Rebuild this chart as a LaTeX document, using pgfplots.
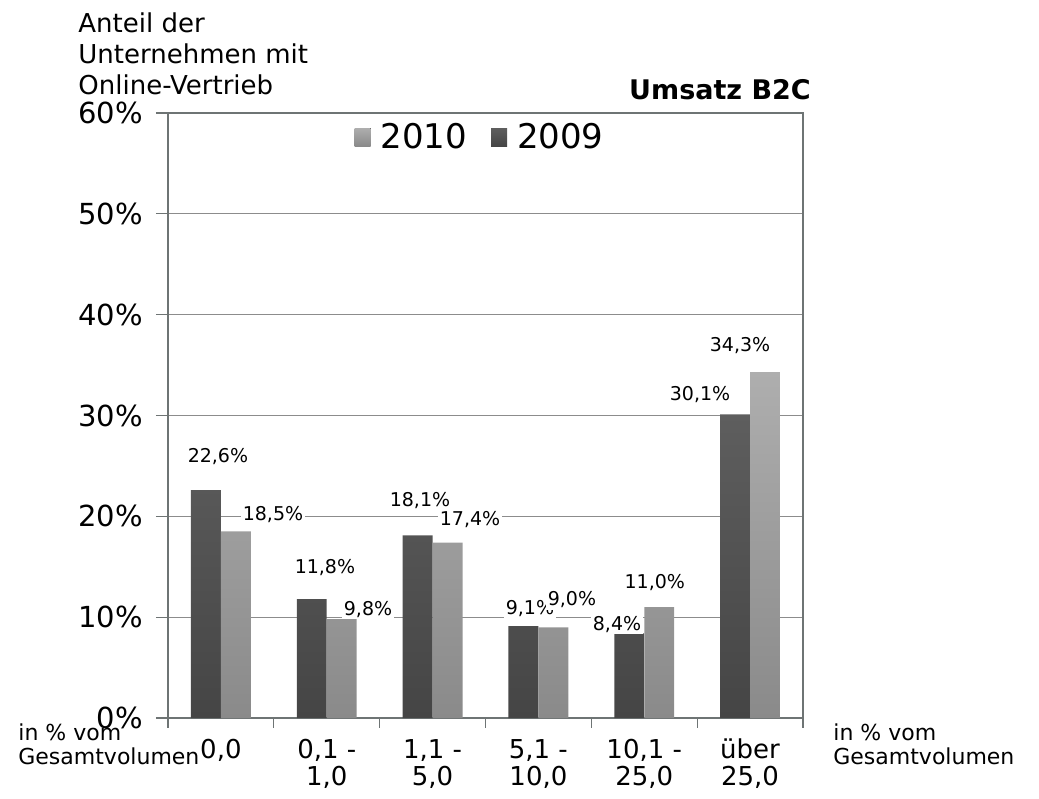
\documentclass[border=0pt]{standalone}
\usepackage{fontspec}
\setmainfont{DejaVu Sans}
\usepackage{pgfplots}
\pgfplotsset{compat=1.18}

\definecolor{darkA}{HTML}{5E5E5E}
\definecolor{darkB}{HTML}{454545}
\definecolor{lightA}{HTML}{AEAEAE}
\definecolor{lightB}{HTML}{8A8A8A}
\definecolor{gridgray}{HTML}{8C8C8C}
\definecolor{framegray}{HTML}{6E7474}

\begin{document}
\begin{tikzpicture}[x=1pt,y=1pt]
% page frame: 1039 x 798 px at 0.5pt per px, axis box at origin
\path[use as bounding box] (-84,-40) rectangle (435.5,359);
\begin{axis}[
    at={(0,0)}, anchor=south west,
    scale only axis, width=317.5pt, height=302.5pt,
    ybar, bar width=0.283,
    xmin=-0.5, xmax=5.5, ymin=0, ymax=60,
    ytick={0,10,...,60},
    yticklabel={\pgfmathprintnumber{\tick}\%},
    /pgf/number format/assume math mode=true,
    yticklabel style={font=\fontsize{14.5}{17}\selectfont, xshift=-3pt},
    ytick pos=left,
    xtick={0,...,5},
    xticklabels={{0,0},{0,1 -\\1,0},{1,1 -\\5,0},{5,1 -\\10,0},{10,1 -\\25,0},{über\\25,0}},
    xticklabel style={font=\fontsize{13}{13.5}\selectfont, align=center, yshift=-1pt},
    tick align=outside, major tick length=6pt,
    xtick style={draw=none},
    ytick style={draw=framegray, line width=0.6pt},
    ymajorgrids, grid style={gridgray, line width=0.6pt},
    axis line style={framegray, line width=0.8pt},
    clip=false,
    legend style={at={(0.493,0.960)}, anchor=center, draw=none, fill=none,
        font=\fontsize{17}{20}\selectfont, legend columns=-1,
        /tikz/every even column/.append style={column sep=10pt}},
    legend image code/.code={\fill[#1] (0pt,-4.5pt) rectangle (8pt,4.5pt);
        \path (0pt,0pt) -- (11pt,0pt);},
    reverse legend,
]
% 2009
\addplot[bar shift=-0.1417, draw=none, top color=darkA, bottom color=darkB]
    coordinates {(0,22.6) (1,11.8) (2,18.1) (3,9.1) (4,8.4) (5,30.1)};
% 2010
\addplot[bar shift=0.1417, draw=none, top color=lightA, bottom color=lightB]
    coordinates {(0,18.5) (1,9.8) (2,17.4) (3,9.0) (4,11.0) (5,34.3)};
\legend{2009,2010}

% category separators below the axis
\pgfplotsinvokeforeach{-0.5,0.5,1.5,2.5,3.5,4.5,5.5}{
    \draw[framegray, line width=0.6pt] (axis cs:#1,0) -- ++(0pt,-5pt);
}

% value labels
\tikzset{vl/.style={fill=white, inner sep=1pt, font=\fontsize{9.5}{11}\selectfont}}
\node[vl] at (axis cs:-0.028,25.9) {22,6\%};
\node[vl] at (axis cs:0.492,20.2) {18,5\%};
\node[vl] at (axis cs:0.983,14.9) {11,8\%};
\node[vl] at (axis cs:1.39,10.8) {9,8\%};
\node[vl] at (axis cs:1.881,21.6) {18,1\%};
\node[vl] at (axis cs:2.354,19.7) {17,4\%};
\node[vl] at (axis cs:2.92,10.9) {9,1\%};
\node[vl] at (axis cs:3.317,11.7) {9,0\%};
\node[vl] at (axis cs:3.743,9.3) {8,4\%};
\node[vl] at (axis cs:4.10,13.4) {11,0\%};
\node[vl] at (axis cs:4.527,32.1) {30,1\%};
\node[vl] at (axis cs:4.905,36.9) {34,3\%};
\end{axis}

\node[anchor=north west, align=left, inner sep=0pt, font=\fontsize{13}{15.5}\selectfont]
    at (-45,353) {Anteil der\\Unternehmen mit\\Online-Vertrieb};
\node[font=\bfseries\fontsize{13.5}{16}\selectfont] at (276,314) {Umsatz B2C};
\node[anchor=west, align=left, inner sep=0pt, font=\fontsize{11}{12}\selectfont]
    at (-75,-13) {in \% vom\\Gesamtvolumen};
\node[anchor=west, align=left, inner sep=0pt, font=\fontsize{11}{12}\selectfont]
    at (332.5,-13) {in \% vom\\Gesamtvolumen};
\end{tikzpicture}
\end{document}
